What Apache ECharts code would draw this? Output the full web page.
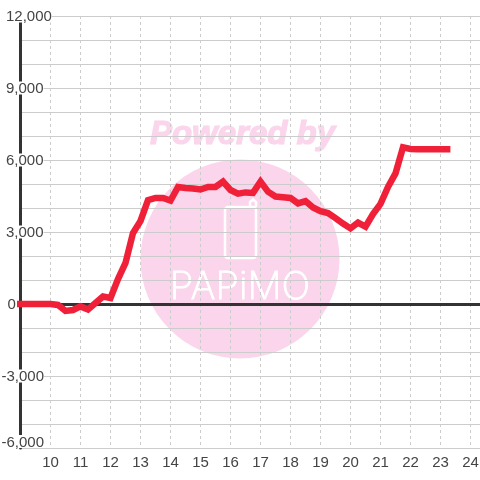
<!DOCTYPE html>
<html>
<head>
<meta charset="utf-8">
<style>html,body{margin:0;padding:0;background:#fff}#c{width:480px;height:480px}</style>
<script src="https://cdn.jsdelivr.net/npm/echarts@6/dist/echarts.min.js"></script>
</head>
<body>
<div id="c"></div>
<script>
const hours = [8.88,9,10,10.25,10.5,10.75,11,11.25,11.5,11.75,12,12.25,12.5,12.75,13,13.25,13.5,13.75,14,14.25,14.5,14.75,15,15.25,15.5,15.75,16,16.25,16.5,16.75,17,17.25,17.5,17.75,18,18.25,18.5,18.75,19,19.25,19.5,19.75,20,20.25,20.5,20.75,21,21.25,21.5,21.75,22,22.25,22.5,22.75,23,23.33];
const balance = [0,0,0,-40,-290,-250,-100,-230,40,310,250,1040,1710,2960,3460,4330,4420,4420,4310,4875,4830,4810,4770,4875,4875,5100,4750,4600,4650,4630,5100,4680,4480,4450,4420,4190,4290,4020,3870,3790,3580,3350,3150,3390,3220,3750,4170,4880,5440,6530,6460,6450,6450,6450,6450,6450];
const yLabels = [12000,9000,6000,3000,0,-3000,-6000];
const xMin = 9, xMax = 24.3167, yMin = -6000, yMax = 12000;
const GRID = '#cccccc', DARK = '#333333', TEXT = '#444444', RED = '#f02039', PINK = '#fbd5ec';

function fmtY(v){
  if (!yLabels.includes(v)) return '';
  const s = v.toLocaleString('en-US');
  const tok = v < 0 ? 'n' : (v === 0 ? 'z' : 'p');
  return '{' + tok + '|' + s + '}';
}
const tok = (left) => ({fontSize:15,fontFamily:'Liberation Sans',color:TEXT,padding:[2,0,0,left],lineHeight:13});

const chart = echarts.init(document.getElementById('c'), null, {renderer:'canvas'});
chart.setOption({
  animation:false,
  backgroundColor:'#fff',
  grid:{left:20.5,top:16,right:0,bottom:32,containLabel:false,outerBoundsMode:'none'},
  graphic:[
    {type:'circle',z:-10,silent:true,shape:{cx:240,cy:259,r:99.5},style:{fill:PINK}},
    {type:'text',z:-10,silent:true,x:242.5,y:135,style:{text:'Powered by',fill:PINK,stroke:PINK,lineWidth:1.2,font:'italic bold 33px "Liberation Sans"',align:'center',verticalAlign:'middle'}},
    {type:'rect',z:-9,silent:true,shape:{x:225,y:207,width:31,height:51,r:3},style:{fill:'none',stroke:'#ffffff',lineWidth:2.5}},
    {type:'polyline',z:-9,silent:true,shape:{points:[[250,207],[250,202],[253,199.5],[256,202],[256,207]]},style:{fill:'none',stroke:'#ffffff',lineWidth:2.5}},
    {type:'text',z:-9,silent:true,x:240,y:288,style:{text:'PAPiMO',fill:'#ffffff',stroke:'#ffffff',lineWidth:0.8,font:'200 38px Inter',align:'center',verticalAlign:'middle'}}
  ],
  xAxis:[
    {type:'value',min:xMin,max:xMax,interval:1,position:'bottom',
     axisLine:{show:false,onZero:false},axisTick:{show:false},
     axisLabel:{margin:7,fontSize:15,fontFamily:'Liberation Sans',color:TEXT,
       formatter:v => (v===xMin||v===xMax)?'':String(v)},
     splitLine:{show:true,showMaxLine:false,lineStyle:{color:GRID,type:[3,3],width:1}}},
    {type:'value',min:xMin,max:xMax,interval:1,
     axisLine:{show:true,onZero:true,lineStyle:{color:DARK,width:3}},
     axisTick:{show:false},axisLabel:{show:false},splitLine:{show:false}}
  ],
  yAxis:{type:'value',min:yMin,max:yMax,interval:1000,
    axisLine:{show:true,onZero:false,lineStyle:{color:DARK,width:3}},
    axisTick:{show:false},
    axisLabel:{show:true,align:'left',margin:19,hideOverlap:false,backgroundColor:'#fff',
      verticalAlignMinLabel:'bottom',
      formatter:fmtY,rich:{p:tok(4.5),n:tok(0),z:tok(6)}},
    splitLine:{show:true,lineStyle:{color:GRID,width:1}}},
  series:[{type:'line',xAxisIndex:0,yAxisIndex:0,clip:false,showSymbol:false,smooth:false,
    data:hours.map((h,i)=>[h,balance[i]]),
    lineStyle:{color:RED,width:6.5,cap:'butt',join:'miter'},z:5}]
});
</script>
</body>
</html>
